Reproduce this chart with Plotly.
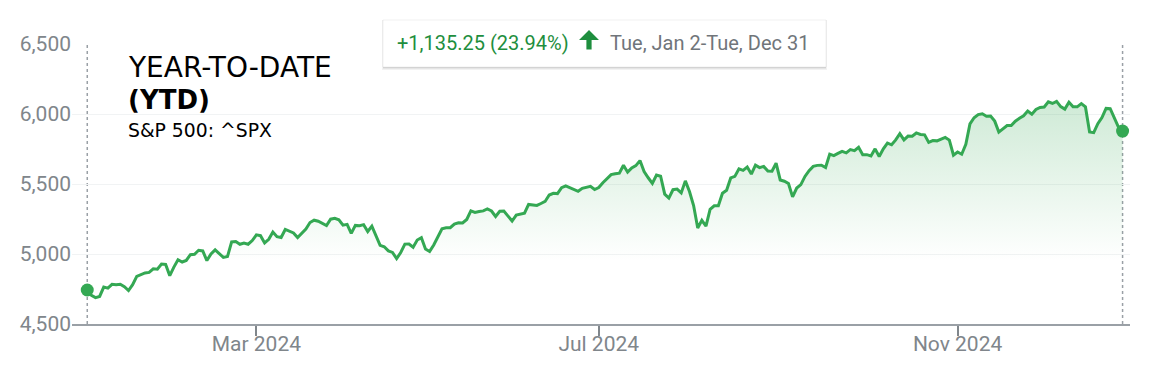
import plotly.graph_objects as go

# ---- data: S&P 500 daily closes, 2024 (trading days per month) ----
days_jan = [2, 3, 4, 5, 8, 9, 10, 11, 12, 16, 17, 18, 19, 22, 23, 24, 25, 26, 29, 30, 31]
close_jan = [4742.83, 4704.81, 4688.68, 4697.24, 4763.54, 4756.50, 4783.45, 4780.24, 4783.83, 4765.98,
             4739.21, 4780.94, 4839.81, 4850.43, 4864.60, 4868.55, 4894.16, 4890.97, 4927.93, 4924.97, 4845.65]
days_feb = [1, 2, 5, 6, 7, 8, 9, 12, 13, 14, 15, 16, 20, 21, 22, 23, 26, 27, 28, 29]
close_feb = [4906.19, 4958.61, 4942.81, 4954.23, 4995.06, 4997.91, 5026.61, 5021.84, 4953.17, 5000.62,
             5029.73, 5005.57, 4975.51, 4981.80, 5087.03, 5088.80, 5069.53, 5078.18, 5069.76, 5096.27]
days_mar = [1, 4, 5, 6, 7, 8, 11, 12, 13, 14, 15, 18, 19, 20, 21, 22, 25, 26, 27, 28]
close_mar = [5137.08, 5130.95, 5078.65, 5104.76, 5157.36, 5123.69, 5117.94, 5175.27, 5165.31, 5150.48,
             5117.09, 5149.42, 5178.51, 5224.62, 5241.53, 5234.18, 5218.19, 5203.58, 5248.49, 5254.35]
days_apr = [1, 2, 3, 4, 5, 8, 9, 10, 11, 12, 15, 16, 17, 18, 19, 22, 23, 24, 25, 26, 29, 30]
close_apr = [5243.77, 5205.81, 5211.49, 5147.21, 5204.34, 5202.39, 5209.91, 5160.64, 5199.06, 5123.41, 5061.82,
             5051.41, 5022.21, 5011.12, 4967.23, 5010.60, 5070.55, 5071.63, 5048.42, 5099.96, 5116.17, 5035.69]
days_may = [1, 2, 3, 6, 7, 8, 9, 10, 13, 14, 15, 16, 17, 20, 21, 22, 23, 24, 28, 29, 30, 31]
close_may = [5018.39, 5064.20, 5127.79, 5180.74, 5187.70, 5187.67, 5214.08, 5222.68, 5221.42, 5246.68, 5308.15,
             5297.10, 5303.27, 5308.13, 5321.41, 5307.01, 5267.84, 5304.72, 5306.04, 5266.95, 5235.48, 5277.51]
days_jun = [3, 4, 5, 6, 7, 10, 11, 12, 13, 14, 17, 18, 20, 21, 24, 25, 26, 27, 28]
close_jun = [5283.40, 5291.34, 5354.03, 5352.96, 5346.99, 5360.79, 5375.32, 5421.03, 5433.74, 5431.60,
             5473.23, 5487.03, 5473.17, 5464.62, 5447.87, 5469.30, 5477.90, 5482.87, 5460.48]
days_jul = [1, 2, 3, 5, 8, 9, 10, 11, 12, 15, 16, 17, 18, 19, 22, 23, 24, 25, 26, 29, 30, 31]
close_jul = [5475.09, 5509.01, 5537.02, 5567.19, 5572.85, 5576.98, 5633.91, 5584.54, 5615.35, 5631.22, 5667.20,
             5588.27, 5544.59, 5505.00, 5564.41, 5555.74, 5427.13, 5399.22, 5459.10, 5463.54, 5436.44, 5522.30]
days_aug = [1, 2, 5, 6, 7, 8, 9, 12, 13, 14, 15, 16, 19, 20, 21, 22, 23, 26, 27, 28, 29, 30]
close_aug = [5446.68, 5346.56, 5186.33, 5240.03, 5199.50, 5319.31, 5344.16, 5344.39, 5434.43, 5455.21, 5543.22,
             5554.25, 5608.25, 5597.12, 5620.85, 5570.64, 5634.61, 5616.84, 5625.80, 5592.18, 5591.96, 5648.40]
days_sep = [3, 4, 5, 6, 9, 10, 11, 12, 13, 16, 17, 18, 19, 20, 23, 24, 25, 26, 27, 30]
close_sep = [5528.93, 5520.07, 5503.41, 5408.42, 5471.05, 5495.52, 5554.13, 5595.76, 5626.02, 5633.09,
             5634.58, 5618.26, 5713.64, 5702.55, 5718.57, 5732.93, 5722.26, 5745.37, 5738.17, 5762.48]
days_oct = [1, 2, 3, 4, 7, 8, 9, 10, 11, 14, 15, 16, 17, 18, 21, 22, 23, 24, 25, 28, 29, 30, 31]
close_oct = [5708.75, 5709.54, 5699.94, 5751.07, 5695.94, 5751.13, 5792.04, 5780.05, 5815.03, 5859.85, 5815.26,
             5842.47, 5841.47, 5864.67, 5853.98, 5851.20, 5797.42, 5809.86, 5808.12, 5823.52, 5832.92, 5813.67,
             5705.45]
days_nov = [1, 4, 5, 6, 7, 8, 11, 12, 13, 14, 15, 18, 19, 20, 21, 22, 25, 26, 27, 29]
close_nov = [5728.80, 5712.69, 5782.76, 5929.04, 5973.10, 5995.54, 6001.35, 5983.99, 5985.38, 5949.17,
             5870.62, 5893.62, 5916.98, 5917.11, 5948.71, 5969.34, 5987.37, 6021.63, 5998.74, 6032.38]
days_dec = [2, 3, 4, 5, 6, 9, 10, 11, 12, 13, 16, 17, 18, 19, 20, 23, 24, 26, 27, 30, 31]
close_dec = [6047.15, 6049.88, 6086.49, 6075.11, 6090.27, 6052.85, 6034.91, 6084.19, 6051.25, 6051.09,
             6074.08, 6050.61, 5872.16, 5867.08, 5930.85, 5974.07, 6040.04, 6037.59, 5970.84, 5906.94, 5878.08]

tick_dates = ["2024-03-01", "2024-07-01", "2024-11-01"]
tick_labels = ["Mar 2024", "Jul 2024", "Nov 2024"]
y_ticks = [4500, 5000, 5500, 6000, 6500]

title_main = "YEAR-TO-DATE"
title_sub = "(YTD)"
title_ticker = "S&P 500: ^SPX"
change_text = "+1,135.25 (23.94%)"
range_text = "Tue, Jan 2-Tue, Dec 31"

# ---- assemble ----
months = [(1, days_jan, close_jan), (2, days_feb, close_feb), (3, days_mar, close_mar),
          (4, days_apr, close_apr), (5, days_may, close_may), (6, days_jun, close_jun),
          (7, days_jul, close_jul), (8, days_aug, close_aug), (9, days_sep, close_sep),
          (10, days_oct, close_oct), (11, days_nov, close_nov), (12, days_dec, close_dec)]
dates, closes = [], []
for m, ds, cs in months:
    for d, c in zip(ds, cs):
        dates.append(f"2024-{m:02d}-{d:02d}")
        closes.append(c)
idx = list(range(len(dates)))
tick_idx = [dates.index(d) for d in tick_dates]

GREEN = "#34a853"
W, H = 1149, 382
ML, MR, MT, MB = 72, 19, 44, 58
PW, PH = W - ML - MR, H - MT - MB


def fx(p):
    return (p - ML) / PW


def fy(p):
    return (H - MB - p) / PH


fig = go.Figure()
fig.add_trace(go.Scatter(
    x=idx, y=closes, mode="lines",
    line=dict(color=GREEN, width=3),
    fill="tozeroy",
    fillgradient=dict(type="vertical",
                      colorscale=[[0, "rgba(52,168,83,0)"], [1, "rgba(52,168,83,0.24)"]],
                      start=4950, stop=6100),
    hoverinfo="skip", showlegend=False,
))
fig.add_trace(go.Scatter(
    x=[idx[0], idx[-1]], y=[closes[0], closes[-1]], mode="markers",
    marker=dict(color=GREEN, size=13), hoverinfo="skip", showlegend=False,
))

shapes = []
# dotted start / end lines
for xi in (idx[0], idx[-1]):
    shapes.append(dict(type="line", xref="x", yref="y", x0=xi, x1=xi, y0=4500, y1=6500,
                       line=dict(color="#9aa0a6", width=1.5, dash="dot"), layer="below"))
# tooltip card with shadow
bx0, by0, bx1, by1 = 383, 20, 826, 67
shapes.append(dict(type="rect", xref="paper", yref="paper", x0=fx(bx0 - 1), x1=fx(bx1 + 1),
                   y0=fy(by0), y1=fy(by1 + 3), fillcolor="rgba(0,0,0,0.05)", line=dict(width=0), layer="above"))
shapes.append(dict(type="rect", xref="paper", yref="paper", x0=fx(bx0), x1=fx(bx1),
                   y0=fy(by0), y1=fy(by1 + 1.5), fillcolor="rgba(0,0,0,0.10)", line=dict(width=0), layer="above"))
shapes.append(dict(type="rect", xref="paper", yref="paper", x0=fx(bx0), x1=fx(bx1),
                   y0=fy(by0), y1=fy(by1), fillcolor="white", line=dict(color="rgba(0,0,0,0.06)", width=1),
                   layer="above"))
# up arrow
pts = [(589, 30), (599, 40), (591.6, 40), (591.6, 49.5), (586.4, 49.5), (586.4, 40), (579, 40)]
path = "M " + " L ".join(f"{fx(a):.5f},{fy(b):.5f}" for a, b in pts) + " Z"
shapes.append(dict(type="path", xref="paper", yref="paper", path=path,
                   fillcolor="#1e8e3e", line=dict(width=0), layer="above"))

annotations = [
    dict(text=title_main, x=fx(126), y=fy(67), xref="paper", yref="paper", xanchor="left", yanchor="middle",
         showarrow=False, font=dict(family="DejaVu Sans", size=28, color="#000000")),
    dict(text=f"<b>{title_sub}</b>", x=fx(126), y=fy(100), xref="paper", yref="paper", xanchor="left",
         yanchor="middle", showarrow=False, font=dict(family="DejaVu Sans", size=26, color="#000000")),
    dict(text=title_ticker, x=fx(126), y=fy(130), xref="paper", yref="paper", xanchor="left",
         yanchor="middle", showarrow=False, font=dict(family="DejaVu Sans", size=18.8, color="#000000")),
    dict(text=change_text, x=fx(395), y=fy(43), xref="paper", yref="paper", xanchor="left",
         yanchor="middle", showarrow=False, font=dict(family="Roboto", size=20, color="#1e8e3e")),
    dict(text=range_text, x=fx(608), y=fy(43), xref="paper", yref="paper", xanchor="left",
         yanchor="middle", showarrow=False, font=dict(family="Roboto", size=20, color="#70757a")),
]

fig.update_layout(
    width=W, height=H, margin=dict(l=ML, r=MR, t=MT, b=MB),
    paper_bgcolor="white", plot_bgcolor="white",
    shapes=shapes, annotations=annotations, showlegend=False, hovermode=False,
    xaxis=dict(range=[-3.7, 252.8], tickvals=tick_idx, ticktext=tick_labels, showgrid=False,
               zeroline=False, showline=True, linecolor="#9aa0a6", linewidth=2,
               ticks="outside", ticklen=10, tickwidth=1.5, tickcolor="#80868b",
               tickfont=dict(family="Roboto", size=21, color="#80868b"), ticklabelstandoff=-10),
    yaxis=dict(range=[4500, 6500], tickvals=y_ticks, tickformat=",", showgrid=True,
               gridcolor="#f1f3f4", gridwidth=1, zeroline=False, showline=False, ticks="",
               tickfont=dict(family="Roboto", size=21, color="#80868b"), ticklabelstandoff=0),
)

fig.write_html("out.html", config={"displayModeBar": False})
